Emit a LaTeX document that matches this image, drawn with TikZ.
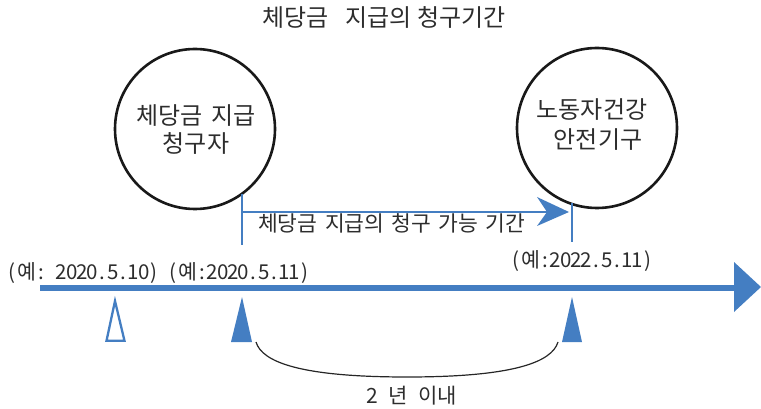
\documentclass[tikz,border=0pt]{standalone}
\usepackage{fontspec}
\setmainfont{Noto Sans CJK KR}
\definecolor{tblue}{RGB}{68,126,194}
\definecolor{ttext}{RGB}{45,45,45}
\newcommand\hw[1]{\makebox[0.5em][c]{#1}}
\newcommand\hsp{\hspace{0.5em}}
\begin{document}
\begin{tikzpicture}[x=1pt,y=-1pt,
  circ/.style={circle,draw=black!90,line width=2.6pt,minimum size=160pt,inner sep=0pt},
  ctext/.style={font=\fontsize{24}{28}\selectfont,text=ttext,inner sep=0pt},
  lbl/.style={font=\fontsize{21.5}{24}\selectfont,text=ttext,inner sep=0pt},
  datel/.style={font=\fontsize{20.5}{24}\selectfont,text=ttext,inner sep=0pt,anchor=base},
  tick/.style={draw=tblue,line width=2.3pt},
  hollowtri/.style={draw=tblue,line width=2.3pt,fill=white,line join=miter}]
\useasboundingbox (0,0) rectangle (761,409);
\node[ctext] (title) at (384,17.5) {체당금\hspace{17pt}지급의\hspace{5pt}청구기간};
\node[circ] (c1) at (195,129) {};
\node[circ] (c2) at (597,128) {};
\node[ctext] (c1a) at (196,116) {체당금\hspace{9pt}지급};
\node[ctext] (c1b) at (196,143) {청구자};
\node[ctext] (c2a) at (592,110) {노동자건강};
\node[ctext] (c2b) at (598,140) {안전기구};
\coordinate (t1top) at (242,194);
\coordinate (t1bot) at (242,245);
\coordinate (t2top) at (572,203);
\coordinate (t2bot) at (572,242);
\draw[tick] (t1top) -- (t1bot);
\draw[tick] (t2top) -- (t2bot);
\coordinate (arS) at (242,212);
\coordinate (arE) at (548,212);
\draw[tick] (arS) -- (arE);
\fill[tblue] (537,197) -- (569,212) -- (537,226) -- (547,212) -- cycle;
\node[lbl,anchor=west] (ptext) at (258,223.5) {체당금\hspace{7.5pt}지급의\hspace{7.5pt}청구\hspace{7.5pt}가능\hspace{7.5pt}기간};
\node[datel] (d0) at (83,279) {\hw{(}예\hw{:}\hw{ }\hw{2}\hw{0}\hw{2}\hw{0}\hw{.}\hw{5}\hw{.}\hw{1}\hw{0}\hw{)}};
\node[datel] (d1) at (239,279) {\hw{(}예\hw{:}\hw{2}\hw{0}\hw{2}\hw{0}\hw{.}\hw{5}\hw{.}\hw{1}\hw{1}\hw{)}};
\node[datel] (d2) at (582,267) {\hw{(}예\hw{:}\hw{2}\hw{0}\hw{2}\hw{2}\hw{.}\hw{5}\hw{.}\hw{1}\hw{1}\hw{)}};
\coordinate (axS) at (40,288);
\coordinate (axE) at (737,288);
\draw[tblue,line width=5.5pt] (axS) -- (axE);
\fill[tblue] (734,262) -- (761,287) -- (734,312) -- cycle;
\draw[hollowtri] (115,301) -- (124.5,340.8) -- (106.5,340.8) -- cycle;
\fill[tblue] (242,297) -- (252,342) -- (231,342) -- cycle;
\fill[tblue] (572,297) -- (582,342) -- (562,342) -- cycle;
\coordinate (bl) at (256,342);
\coordinate (br) at (558,342);
\draw[black!85,line width=1.2pt] (bl) .. controls (262,362) and (300,377) .. (407,377) .. controls (514,377) and (552,362) .. (br);
\node[ctext,font=\fontsize{21}{24}\selectfont] (two) at (412,396) {\hw{2}\hsp 년\hsp 이내};
\end{tikzpicture}
\end{document}
